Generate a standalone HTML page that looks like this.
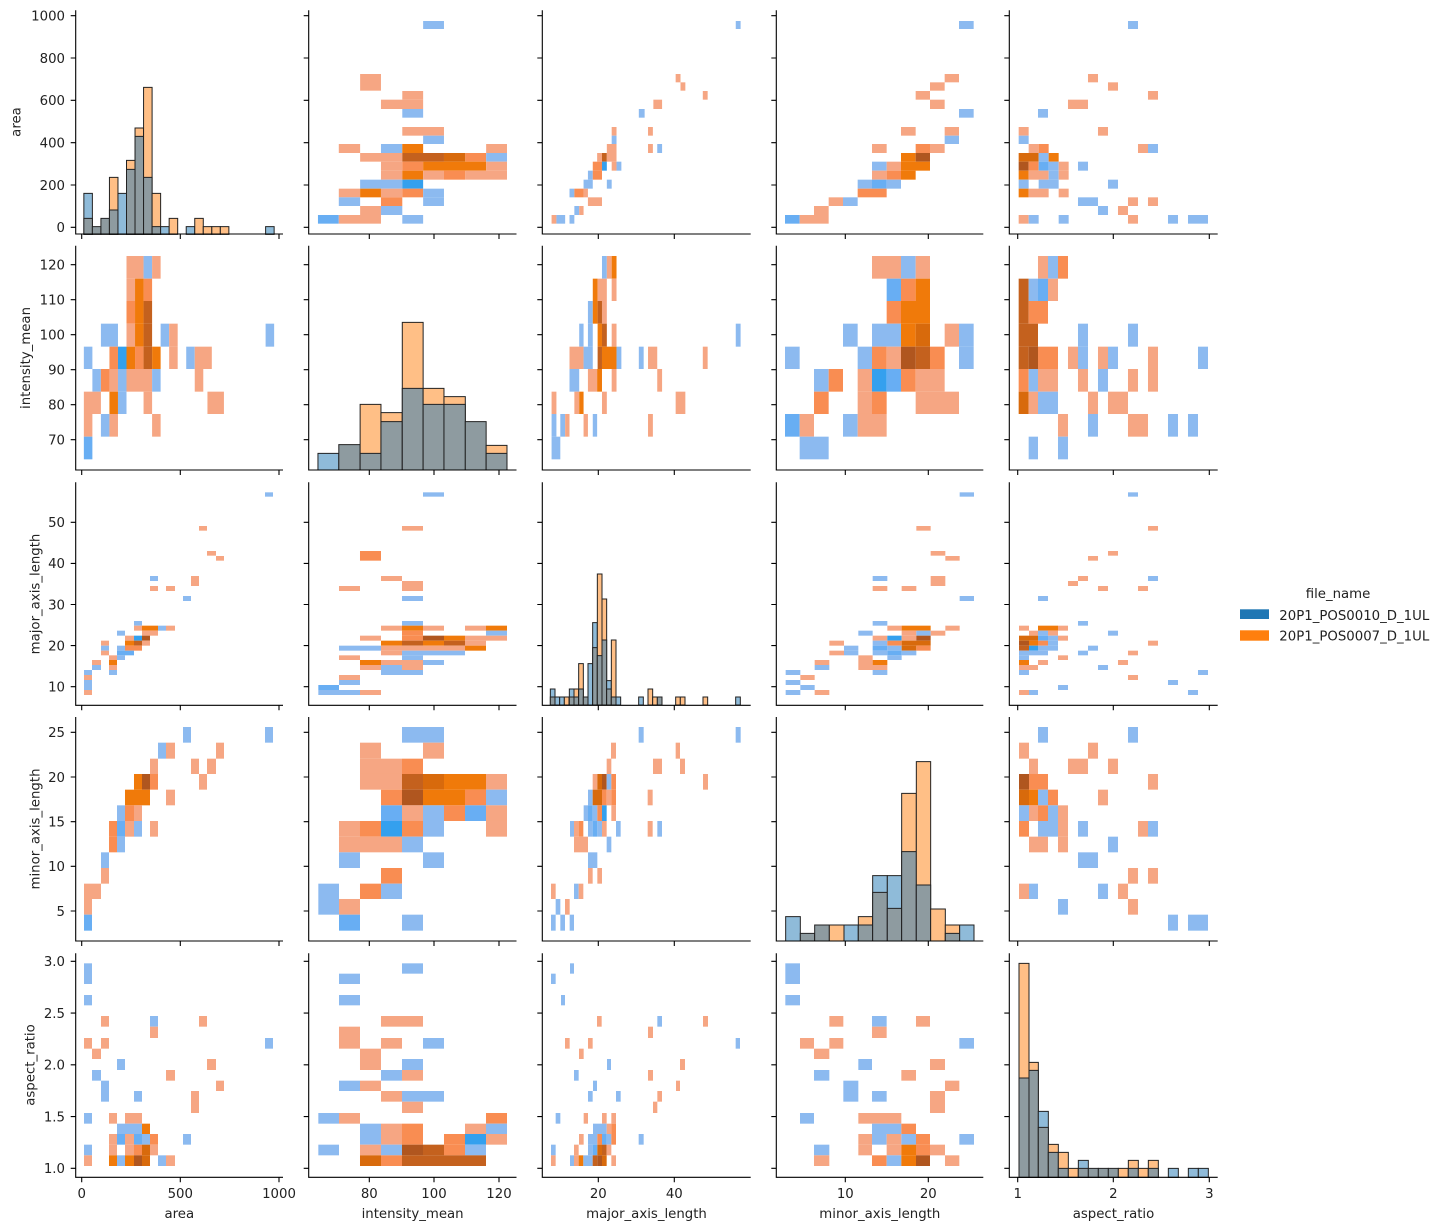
<!DOCTYPE html>
<html><head><meta charset="utf-8"><style>
html,body{margin:0;padding:0;background:#fff}
svg{display:block}
text{font-family:"DejaVu Sans","Liberation Sans",sans-serif;font-size:13.3px;fill:#222}
.S{fill:#f6a683}.M{fill:#f98d52}.O{fill:#f07a0a}.D{fill:#c4611e}.DD{fill:#b0561f}.DO{fill:#d86a0c}
.B{fill:#8cbaf0}.BM{fill:#68aef3}.BS{fill:#34a0ee}
.hb,.ho,.hg{stroke:#222;stroke-width:1;vector-effect:non-scaling-stroke}
.hb{fill:#8fbbd9}.ho{fill:#ffbf86}.hg{fill:#8e9ba0}
.ax{fill:none;stroke:#000;stroke-width:1.1}
</style></head><body>
<svg width="1448" height="1230" viewBox="0 0 1448 1230" xmlns="http://www.w3.org/2000/svg">
<defs>
<g id="yt0"><path class="ax" d="M-5 15.7h5M-5 58h5M-5 100.3h5M-5 142.7h5M-5 185h5M-5 227.3h5"/></g>
<g id="yt1"><path class="ax" d="M-5 264.7h5M-5 299.7h5M-5 334.7h5M-5 369.7h5M-5 404.7h5M-5 439.7h5"/></g>
<g id="yt2"><path class="ax" d="M-5 522.3h5M-5 563.4h5M-5 604.5h5M-5 645.6h5M-5 686.7h5"/></g>
<g id="yt3"><path class="ax" d="M-5 732.3h5M-5 777h5M-5 821.7h5M-5 866.3h5M-5 911h5"/></g>
<g id="yt4"><path class="ax" d="M-5 961.3h5M-5 1013.1h5M-5 1064.8h5M-5 1116.6h5M-5 1168.3h5"/></g>
<g id="xt0"><path class="ax" d="M81.7 0v5M180.3 0v5M279 0v5"/></g>
<g id="xt1"><path class="ax" d="M369.3 0v5M434 0v5M499 0v5"/></g>
<g id="xt2"><path class="ax" d="M598.3 0v5M674.3 0v5"/></g>
<g id="xt3"><path class="ax" d="M845.3 0v5M928.3 0v5"/></g>
<g id="xt4"><path class="ax" d="M1017.7 0v5M1113.3 0v5M1209.3 0v5"/></g>
</defs>

<!-- zoom3 group: panels (0,0),(0,1),(0,2),(1,0),(1,1),(1,2) -->
<g transform="scale(0.48469,0.33333)">
<!-- (0,0) hist -->
<rect class="hb" x="173" y="580" width="17.6" height="123"/><rect class="hg" x="173" y="655" width="17.6" height="48"/>
<rect class="hg" x="190.6" y="680" width="17.6" height="23"/>
<rect class="hg" x="208.2" y="655" width="17.6" height="48"/>
<rect class="ho" x="225.8" y="532" width="17.6" height="171"/><rect class="hg" x="225.8" y="630" width="17.6" height="73"/>
<rect class="hb" x="243.4" y="580" width="17.6" height="123"/>
<rect class="ho" x="261" y="481" width="17.6" height="222"/><rect class="hg" x="261" y="508" width="17.6" height="195"/>
<rect class="ho" x="278.6" y="384" width="17.6" height="319"/><rect class="hg" x="278.6" y="409" width="17.6" height="294"/>
<rect class="ho" x="296.2" y="262" width="17.6" height="441"/><rect class="hg" x="296.2" y="532" width="17.6" height="171"/>
<rect class="ho" x="313.8" y="580" width="17.6" height="123"/><rect class="hg" x="313.8" y="680" width="17.6" height="23"/>
<rect class="hb" x="331.4" y="680" width="17.6" height="23"/>
<rect class="ho" x="349" y="655" width="17.6" height="48"/>
<rect class="hb" x="384.2" y="680" width="17.6" height="23"/>
<rect class="ho" x="401.8" y="655" width="17.6" height="48"/>
<rect class="ho" x="419.4" y="680" width="17.6" height="23"/>
<rect class="ho" x="437" y="680" width="17.6" height="23"/>
<rect class="ho" x="454.6" y="680" width="17.6" height="23"/>
<rect class="hb" x="548" y="680" width="17.6" height="23"/>
<!-- (0,1) -->
<rect class="B" x="873" y="63" width="43" height="24"/>
<rect class="S" x="743" y="222" width="43" height="50"/>
<rect class="S" x="830" y="273" width="43" height="26"/>
<rect class="S" x="786" y="299" width="87" height="28"/>
<rect class="B" x="830" y="327" width="43" height="26"/>
<rect class="S" x="830" y="381" width="86" height="26"/>
<rect class="B" x="873" y="407" width="43" height="25"/>
<rect class="S" x="699" y="432" width="44" height="27"/><rect class="B" x="786" y="432" width="44" height="27"/><rect class="O" x="830" y="432" width="43" height="27"/><rect class="S" x="1003" y="432" width="43" height="27"/>
<rect class="S" x="743" y="459" width="87" height="26"/><rect class="D" x="830" y="459" width="86" height="26"/><rect class="DO" x="916" y="459" width="44" height="26"/><rect class="M" x="960" y="459" width="43" height="26"/><rect class="B" x="1003" y="459" width="43" height="26"/>
<rect class="S" x="786" y="485" width="44" height="27"/><rect class="M" x="830" y="485" width="43" height="27"/><rect class="O" x="873" y="485" width="130" height="27"/><rect class="S" x="1003" y="485" width="43" height="27"/>
<rect class="S" x="786" y="512" width="44" height="27"/><rect class="O" x="830" y="512" width="43" height="27"/><rect class="S" x="873" y="512" width="43" height="27"/><rect class="M" x="916" y="512" width="44" height="27"/><rect class="S" x="960" y="512" width="86" height="27"/>
<rect class="B" x="743" y="539" width="87" height="27"/><rect class="BS" x="830" y="539" width="43" height="27"/>
<rect class="S" x="699" y="566" width="44" height="26"/><rect class="O" x="743" y="566" width="43" height="26"/><rect class="S" x="786" y="566" width="44" height="26"/><rect class="M" x="830" y="566" width="43" height="26"/><rect class="B" x="873" y="566" width="43" height="26"/>
<rect class="B" x="699" y="592" width="44" height="26"/><rect class="M" x="786" y="592" width="44" height="26"/><rect class="B" x="873" y="592" width="43" height="26"/>
<rect class="S" x="743" y="618" width="43" height="27"/><rect class="B" x="786" y="618" width="44" height="27"/>
<rect class="BM" x="656" y="645" width="43" height="26"/><rect class="S" x="699" y="645" width="87" height="26"/><rect class="B" x="830" y="645" width="43" height="26"/>
<!-- (0,2) -->
<rect class="B" x="1518" y="63" width="10" height="24"/>
<rect class="S" x="1394" y="222" width="10" height="25"/>
<rect class="S" x="1404" y="247" width="10" height="25"/>
<rect class="S" x="1450" y="273" width="10" height="26"/>
<rect class="S" x="1348" y="299" width="18" height="28"/>
<rect class="B" x="1318" y="327" width="12" height="26"/>
<rect class="S" x="1262" y="381" width="10" height="26"/><rect class="S" x="1337" y="381" width="10" height="26"/>
<rect class="B" x="1262" y="407" width="10" height="25"/>
<rect class="S" x="1252" y="432" width="20" height="27"/><rect class="S" x="1337" y="432" width="10" height="27"/><rect class="B" x="1356" y="432" width="10" height="27"/>
<rect class="S" x="1232" y="459" width="10" height="26"/><rect class="D" x="1242" y="459" width="10" height="26"/><rect class="S" x="1252" y="459" width="20" height="26"/>
<rect class="M" x="1223" y="485" width="19" height="27"/><rect class="BS" x="1242" y="485" width="10" height="27"/><rect class="S" x="1262" y="485" width="10" height="27"/><rect class="B" x="1272" y="485" width="10" height="27"/>
<rect class="B" x="1213" y="512" width="10" height="27"/><rect class="M" x="1223" y="512" width="19" height="27"/>
<rect class="B" x="1204" y="539" width="19" height="27"/><rect class="B" x="1252" y="539" width="10" height="27"/>
<rect class="B" x="1175" y="566" width="10" height="26"/><rect class="M" x="1185" y="566" width="19" height="26"/><rect class="S" x="1204" y="566" width="9" height="26"/>
<rect class="S" x="1213" y="592" width="29" height="26"/>
<rect class="B" x="1185" y="618" width="10" height="27"/><rect class="S" x="1195" y="618" width="9" height="27"/>
<rect class="S" x="1138" y="645" width="10" height="26"/><rect class="B" x="1148" y="645" width="18" height="26"/><rect class="B" x="1175" y="645" width="10" height="26"/>
<!-- (1,0) -->
<rect class="S" x="261" y="768" width="35.2" height="68"/><rect class="B" x="296.2" y="768" width="17.6" height="68"/><rect class="S" x="313.8" y="768" width="17.6" height="68"/>
<rect class="S" x="261" y="836" width="17.6" height="67"/><rect class="O" x="278.6" y="836" width="17.6" height="67"/><rect class="M" x="296.2" y="836" width="17.6" height="67"/>
<rect class="M" x="261" y="903" width="17.6" height="68"/><rect class="O" x="278.6" y="903" width="17.6" height="68"/><rect class="D" x="296.2" y="903" width="17.6" height="68"/>
<rect class="B" x="208.2" y="971" width="35.2" height="69"/><rect class="S" x="261" y="971" width="17.6" height="69"/><rect class="O" x="278.6" y="971" width="17.6" height="69"/><rect class="D" x="296.2" y="971" width="17.6" height="69"/><rect class="B" x="331.4" y="971" width="17.6" height="69"/><rect class="S" x="349" y="971" width="17.6" height="69"/><rect class="B" x="548" y="971" width="17.6" height="69"/>
<rect class="B" x="173" y="1040" width="17.6" height="67"/><rect class="M" x="225.8" y="1040" width="17.6" height="67"/><rect class="BS" x="243.4" y="1040" width="17.6" height="67"/><rect class="O" x="261" y="1040" width="17.6" height="67"/><rect class="M" x="278.6" y="1040" width="17.6" height="67"/><rect class="D" x="296.2" y="1040" width="17.6" height="67"/><rect class="O" x="313.8" y="1040" width="17.6" height="67"/><rect class="S" x="349" y="1040" width="17.6" height="67"/><rect class="B" x="384.2" y="1040" width="17.6" height="67"/><rect class="S" x="401.8" y="1040" width="35.2" height="67"/>
<rect class="B" x="190.6" y="1107" width="17.6" height="68"/><rect class="M" x="208.2" y="1107" width="17.6" height="68"/><rect class="S" x="225.8" y="1107" width="17.6" height="68"/><rect class="B" x="243.4" y="1107" width="17.6" height="68"/><rect class="S" x="261" y="1107" width="52.8" height="68"/><rect class="B" x="313.8" y="1107" width="17.6" height="68"/><rect class="S" x="401.8" y="1107" width="17.6" height="68"/>
<rect class="S" x="173" y="1175" width="35.2" height="67"/><rect class="O" x="225.8" y="1175" width="17.6" height="67"/><rect class="B" x="243.4" y="1175" width="17.6" height="67"/><rect class="S" x="296.2" y="1175" width="17.6" height="67"/><rect class="S" x="428" y="1175" width="34" height="67"/>
<rect class="S" x="173" y="1242" width="17.6" height="68"/><rect class="B" x="208.2" y="1242" width="17.6" height="68"/><rect class="S" x="225.8" y="1242" width="17.6" height="68"/><rect class="S" x="313.8" y="1242" width="17.6" height="68"/>
<rect class="BM" x="173" y="1310" width="17.6" height="68"/>
<!-- (1,1) hist -->
<rect class="hb" x="656" y="1360" width="43" height="50"/>
<rect class="hg" x="699" y="1334" width="44" height="76"/>
<rect class="ho" x="743" y="1213" width="43" height="197"/><rect class="hg" x="743" y="1360" width="43" height="50"/>
<rect class="ho" x="786" y="1238" width="44" height="172"/><rect class="hg" x="786" y="1265" width="44" height="145"/>
<rect class="ho" x="830" y="967" width="43" height="443"/><rect class="hg" x="830" y="1165" width="43" height="245"/>
<rect class="ho" x="873" y="1165" width="43" height="245"/><rect class="hg" x="873" y="1213" width="43" height="197"/>
<rect class="ho" x="916" y="1190" width="44" height="220"/><rect class="hg" x="916" y="1213" width="44" height="197"/>
<rect class="hg" x="960" y="1265" width="43" height="145"/>
<rect class="ho" x="1003" y="1336" width="43" height="74"/><rect class="hg" x="1003" y="1360" width="43" height="50"/>
<!-- (1,2) -->
<rect class="B" x="1242" y="768" width="10" height="68"/><rect class="S" x="1252" y="768" width="10" height="68"/><rect class="O" x="1262" y="768" width="10" height="68"/>
<rect class="O" x="1223" y="836" width="10" height="67"/><rect class="S" x="1233" y="836" width="19" height="67"/><rect class="S" x="1262" y="836" width="10" height="67"/>
<rect class="B" x="1213" y="903" width="10" height="68"/><rect class="O" x="1223" y="903" width="10" height="68"/><rect class="D" x="1233" y="903" width="9" height="68"/><rect class="S" x="1242" y="903" width="10" height="68"/>
<rect class="B" x="1195" y="971" width="9" height="69"/><rect class="B" x="1213" y="971" width="10" height="69"/><rect class="O" x="1233" y="971" width="9" height="69"/><rect class="D" x="1242" y="971" width="10" height="69"/><rect class="S" x="1262" y="971" width="10" height="69"/><rect class="B" x="1518" y="971" width="10" height="69"/>
<rect class="S" x="1175" y="1040" width="29" height="67"/><rect class="B" x="1204" y="1040" width="19" height="67"/><rect class="D" x="1233" y="1040" width="9" height="67"/><rect class="O" x="1242" y="1040" width="30" height="67"/><rect class="B" x="1272" y="1040" width="10" height="67"/><rect class="B" x="1318" y="1040" width="10" height="67"/><rect class="S" x="1337" y="1040" width="19" height="67"/><rect class="S" x="1450" y="1040" width="10" height="67"/>
<rect class="B" x="1175" y="1107" width="20" height="68"/><rect class="S" x="1213" y="1107" width="19" height="68"/><rect class="O" x="1232" y="1107" width="10" height="68"/><rect class="S" x="1262" y="1107" width="10" height="68"/><rect class="S" x="1356" y="1107" width="10" height="68"/>
<rect class="S" x="1138" y="1175" width="10" height="67"/><rect class="S" x="1185" y="1175" width="10" height="67"/><rect class="O" x="1195" y="1175" width="9" height="67"/><rect class="S" x="1242" y="1175" width="10" height="67"/><rect class="S" x="1394" y="1175" width="20" height="67"/>
<rect class="B" x="1138" y="1242" width="10" height="68"/><rect class="B" x="1156" y="1242" width="10" height="68"/><rect class="S" x="1166" y="1242" width="9" height="68"/><rect class="S" x="1204" y="1242" width="9" height="68"/><rect class="B" x="1223" y="1242" width="9" height="68"/><rect class="S" x="1337" y="1242" width="10" height="68"/>
<rect class="B" x="1138" y="1310" width="18" height="68"/>
</g>

<!-- zoom4 group: (0,3),(0,4),(1,3),(1,4) -->
<g transform="translate(740,0) scale(0.33333)">
<rect class="B" x="657" y="63" width="44" height="24"/>
<rect class="S" x="614" y="222" width="43" height="25"/>
<rect class="S" x="570" y="247" width="44" height="25"/>
<rect class="S" x="527" y="273" width="43" height="26"/>
<rect class="S" x="570" y="299" width="44" height="28"/>
<rect class="B" x="657" y="327" width="44" height="26"/>
<rect class="S" x="483" y="381" width="44" height="26"/><rect class="S" x="614" y="381" width="43" height="26"/>
<rect class="B" x="614" y="407" width="43" height="25"/>
<rect class="S" x="396" y="432" width="44" height="27"/><rect class="M" x="527" y="432" width="43" height="27"/><rect class="S" x="570" y="432" width="44" height="27"/>
<rect class="O" x="483" y="459" width="44" height="26"/><rect class="DD" x="527" y="459" width="43" height="26"/>
<rect class="B" x="396" y="485" width="44" height="27"/><rect class="S" x="440" y="485" width="43" height="27"/><rect class="O" x="483" y="485" width="87" height="27"/>
<rect class="S" x="396" y="512" width="44" height="27"/><rect class="M" x="440" y="512" width="43" height="27"/><rect class="O" x="483" y="512" width="44" height="27"/>
<rect class="B" x="353" y="539" width="43" height="27"/><rect class="BM" x="396" y="539" width="44" height="27"/><rect class="B" x="440" y="539" width="43" height="27"/>
<rect class="M" x="353" y="566" width="87" height="26"/>
<rect class="S" x="266" y="592" width="43" height="26"/><rect class="B" x="309" y="592" width="44" height="26"/>
<rect class="S" x="222" y="618" width="44" height="27"/>
<rect class="BM" x="135" y="645" width="44" height="26"/><rect class="S" x="179" y="645" width="87" height="26"/>
<!-- (0,4) -->
<rect class="B" x="1164" y="63" width="30" height="24"/>
<rect class="S" x="1044" y="222" width="30" height="25"/>
<rect class="S" x="1104" y="247" width="30" height="25"/>
<rect class="S" x="1224" y="273" width="30" height="26"/>
<rect class="S" x="984" y="299" width="60" height="28"/>
<rect class="B" x="894" y="327" width="30" height="26"/>
<rect class="S" x="836" y="381" width="30" height="26"/><rect class="S" x="1074" y="381" width="30" height="26"/>
<rect class="B" x="836" y="407" width="30" height="25"/>
<rect class="S" x="866" y="432" width="30" height="27"/><rect class="M" x="896" y="432" width="30" height="27"/><rect class="S" x="1194" y="432" width="30" height="27"/><rect class="B" x="1224" y="432" width="30" height="27"/>
<rect class="DO" x="836" y="459" width="60" height="26"/><rect class="B" x="896" y="459" width="30" height="26"/><rect class="O" x="926" y="459" width="30" height="26"/>
<rect class="DD" x="836" y="485" width="30" height="27"/><rect class="M" x="866" y="485" width="30" height="27"/><rect class="BM" x="896" y="485" width="30" height="27"/><rect class="B" x="926" y="485" width="30" height="27"/><rect class="S" x="956" y="485" width="30" height="27"/><rect class="B" x="1014" y="485" width="30" height="27"/>
<rect class="O" x="836" y="512" width="30" height="27"/><rect class="S" x="866" y="512" width="60" height="27"/><rect class="B" x="926" y="512" width="30" height="27"/><rect class="S" x="956" y="512" width="30" height="27"/>
<rect class="B" x="836" y="539" width="30" height="27"/><rect class="B" x="896" y="539" width="60" height="27"/><rect class="B" x="1104" y="539" width="30" height="27"/>
<rect class="O" x="836" y="566" width="30" height="26"/><rect class="S" x="866" y="566" width="60" height="26"/><rect class="S" x="956" y="566" width="30" height="26"/>
<rect class="B" x="1014" y="592" width="60" height="26"/><rect class="S" x="1164" y="592" width="30" height="26"/><rect class="S" x="1224" y="592" width="30" height="26"/>
<rect class="B" x="1074" y="618" width="30" height="27"/><rect class="S" x="1134" y="618" width="30" height="27"/>
<rect class="S" x="836" y="645" width="30" height="26"/><rect class="B" x="866" y="645" width="30" height="26"/><rect class="B" x="956" y="645" width="30" height="26"/><rect class="S" x="1164" y="645" width="30" height="26"/><rect class="B" x="1284" y="645" width="30" height="26"/><rect class="B" x="1344" y="645" width="60" height="26"/>
<!-- (1,3) -->
<rect class="S" x="396" y="768" width="87" height="68"/><rect class="B" x="483" y="768" width="44" height="68"/><rect class="S" x="527" y="768" width="43" height="68"/>
<rect class="BM" x="440" y="836" width="43" height="67"/><rect class="M" x="483" y="836" width="44" height="67"/><rect class="O" x="527" y="836" width="43" height="67"/>
<rect class="M" x="440" y="903" width="43" height="68"/><rect class="O" x="483" y="903" width="87" height="68"/>
<rect class="B" x="309" y="971" width="44" height="69"/><rect class="B" x="396" y="971" width="87" height="69"/><rect class="O" x="483" y="971" width="44" height="69"/><rect class="DO" x="527" y="971" width="43" height="69"/><rect class="S" x="614" y="971" width="43" height="69"/><rect class="B" x="657" y="971" width="44" height="69"/>
<rect class="B" x="135" y="1040" width="44" height="67"/><rect class="B" x="353" y="1040" width="43" height="67"/><rect class="M" x="396" y="1040" width="44" height="67"/><rect class="S" x="440" y="1040" width="43" height="67"/><rect class="DD" x="483" y="1040" width="44" height="67"/><rect class="D" x="527" y="1040" width="43" height="67"/><rect class="M" x="570" y="1040" width="44" height="67"/><rect class="B" x="657" y="1040" width="44" height="67"/>
<rect class="B" x="222" y="1107" width="44" height="68"/><rect class="M" x="266" y="1107" width="43" height="68"/><rect class="S" x="353" y="1107" width="43" height="68"/><rect class="BS" x="396" y="1107" width="44" height="68"/><rect class="BM" x="440" y="1107" width="43" height="68"/><rect class="M" x="483" y="1107" width="44" height="68"/><rect class="S" x="527" y="1107" width="87" height="68"/>
<rect class="M" x="222" y="1175" width="44" height="67"/><rect class="S" x="353" y="1175" width="43" height="67"/><rect class="M" x="396" y="1175" width="44" height="67"/><rect class="S" x="527" y="1175" width="130" height="67"/>
<rect class="BM" x="135" y="1242" width="44" height="68"/><rect class="S" x="179" y="1242" width="43" height="68"/><rect class="B" x="309" y="1242" width="44" height="68"/><rect class="S" x="353" y="1242" width="87" height="68"/>
<rect class="B" x="179" y="1310" width="87" height="68"/>
<!-- (1,4) -->
<rect class="S" x="894" y="768" width="30" height="68"/><rect class="B" x="924" y="768" width="30" height="68"/><rect class="M" x="954" y="768" width="30" height="68"/>
<rect class="D" x="836" y="836" width="30" height="67"/><rect class="B" x="866" y="836" width="28" height="67"/><rect class="BM" x="894" y="836" width="30" height="67"/><rect class="S" x="924" y="836" width="30" height="67"/>
<rect class="D" x="836" y="903" width="30" height="68"/><rect class="M" x="866" y="903" width="58" height="68"/>
<rect class="D" x="836" y="971" width="58" height="69"/><rect class="B" x="1014" y="971" width="30" height="69"/><rect class="B" x="1164" y="971" width="30" height="69"/>
<rect class="D" x="836" y="1040" width="30" height="67"/><rect class="DD" x="866" y="1040" width="28" height="67"/><rect class="M" x="894" y="1040" width="60" height="67"/><rect class="S" x="984" y="1040" width="30" height="67"/><rect class="B" x="1014" y="1040" width="30" height="67"/><rect class="S" x="1074" y="1040" width="30" height="67"/><rect class="B" x="1104" y="1040" width="30" height="67"/><rect class="S" x="1224" y="1040" width="30" height="67"/><rect class="B" x="1374" y="1040" width="30" height="67"/>
<rect class="M" x="836" y="1107" width="30" height="68"/><rect class="B" x="866" y="1107" width="28" height="68"/><rect class="S" x="894" y="1107" width="60" height="68"/><rect class="S" x="1014" y="1107" width="30" height="68"/><rect class="B" x="1074" y="1107" width="30" height="68"/><rect class="S" x="1164" y="1107" width="30" height="68"/><rect class="S" x="1224" y="1107" width="30" height="68"/>
<rect class="DO" x="836" y="1175" width="30" height="67"/><rect class="S" x="866" y="1175" width="28" height="67"/><rect class="B" x="894" y="1175" width="60" height="67"/><rect class="S" x="1044" y="1175" width="30" height="67"/><rect class="S" x="1104" y="1175" width="60" height="67"/>
<rect class="S" x="954" y="1242" width="30" height="68"/><rect class="B" x="1044" y="1242" width="30" height="68"/><rect class="S" x="1164" y="1242" width="60" height="68"/><rect class="B" x="1284" y="1242" width="30" height="68"/><rect class="B" x="1344" y="1242" width="30" height="68"/>
<rect class="B" x="866" y="1310" width="28" height="68"/><rect class="B" x="954" y="1310" width="30" height="68"/>
</g>

<!-- zoom5 group: (2,0),(2,1),(3,0),(3,1) -->
<g transform="translate(0,470) scale(0.33333)">
<rect class="B" x="795" y="67" width="24" height="13"/>
<rect class="S" x="597" y="168" width="24" height="14"/>
<rect class="S" x="621" y="243" width="27" height="14"/><rect class="S" x="648" y="258" width="24" height="14"/>
<rect class="B" x="450" y="318" width="24" height="15"/><rect class="S" x="573" y="318" width="24" height="30"/><rect class="S" x="450" y="348" width="24" height="15"/><rect class="S" x="498" y="348" width="27" height="15"/>
<rect class="B" x="549" y="378" width="24" height="15"/>
<rect class="B" x="402" y="453" width="24" height="14"/>
<rect class="S" x="402" y="467" width="24" height="15"/><rect class="O" x="426" y="467" width="48" height="15"/><rect class="B" x="474" y="467" width="24" height="15"/><rect class="S" x="498" y="467" width="27" height="15"/>
<rect class="B" x="351" y="482" width="24" height="15"/><rect class="S" x="426" y="482" width="48" height="15"/>
<rect class="S" x="375" y="497" width="27" height="15"/><rect class="BS" x="402" y="497" width="24" height="15"/><rect class="DD" x="426" y="497" width="24" height="15"/>
<rect class="S" x="303" y="512" width="24" height="15"/><rect class="O" x="375" y="512" width="27" height="15"/><rect class="D" x="402" y="512" width="24" height="15"/><rect class="S" x="426" y="512" width="24" height="15"/>
<rect class="B" x="303" y="527" width="24" height="15"/><rect class="B" x="351" y="527" width="24" height="15"/><rect class="M" x="375" y="527" width="51" height="15"/>
<rect class="S" x="303" y="542" width="24" height="14"/><rect class="BM" x="351" y="542" width="51" height="14"/>
<rect class="S" x="327" y="556" width="24" height="14"/><rect class="B" x="351" y="556" width="24" height="14"/>
<rect class="S" x="276" y="570" width="27" height="15"/><rect class="O" x="327" y="570" width="24" height="15"/>
<rect class="B" x="276" y="585" width="27" height="15"/><rect class="S" x="327" y="585" width="24" height="15"/>
<rect class="B" x="252" y="600" width="24" height="15"/><rect class="B" x="327" y="600" width="24" height="15"/>
<rect class="S" x="252" y="615" width="24" height="15"/>
<rect class="B" x="252" y="630" width="24" height="30"/>
<rect class="S" x="252" y="660" width="24" height="15"/>
<!-- (2,1) -->
<rect class="B" x="1269" y="67" width="63" height="13"/>
<rect class="S" x="1206" y="168" width="63" height="14"/>
<rect class="M" x="1080" y="243" width="63" height="29"/>
<rect class="S" x="1143" y="318" width="63" height="15"/><rect class="S" x="1206" y="333" width="63" height="30"/><rect class="S" x="1017" y="348" width="63" height="15"/>
<rect class="B" x="1206" y="378" width="63" height="15"/>
<rect class="B" x="1206" y="453" width="63" height="14"/>
<rect class="S" x="1143" y="467" width="63" height="15"/><rect class="O" x="1206" y="467" width="63" height="15"/><rect class="S" x="1269" y="467" width="63" height="15"/><rect class="S" x="1395" y="467" width="63" height="15"/><rect class="O" x="1458" y="467" width="63" height="15"/>
<rect class="M" x="1206" y="482" width="63" height="15"/><rect class="B" x="1458" y="482" width="63" height="15"/>
<rect class="S" x="1080" y="497" width="63" height="15"/><rect class="M" x="1206" y="497" width="63" height="15"/><rect class="DD" x="1269" y="497" width="63" height="15"/><rect class="O" x="1332" y="497" width="63" height="15"/><rect class="S" x="1395" y="497" width="126" height="15"/>
<rect class="O" x="1143" y="512" width="63" height="15"/><rect class="D" x="1206" y="512" width="63" height="15"/><rect class="O" x="1269" y="512" width="63" height="15"/><rect class="D" x="1332" y="512" width="63" height="15"/><rect class="S" x="1395" y="512" width="63" height="15"/>
<rect class="B" x="1017" y="527" width="126" height="15"/><rect class="S" x="1143" y="527" width="252" height="15"/><rect class="O" x="1395" y="527" width="63" height="15"/>
<rect class="S" x="1143" y="542" width="63" height="14"/><rect class="B" x="1206" y="542" width="189" height="14"/>
<rect class="S" x="1017" y="556" width="63" height="14"/><rect class="B" x="1206" y="556" width="63" height="14"/>
<rect class="O" x="1080" y="570" width="63" height="15"/><rect class="S" x="1143" y="570" width="126" height="15"/><rect class="B" x="1269" y="570" width="63" height="15"/>
<rect class="S" x="1080" y="585" width="63" height="15"/><rect class="B" x="1143" y="585" width="63" height="15"/><rect class="S" x="1206" y="585" width="63" height="15"/>
<rect class="B" x="1143" y="600" width="126" height="15"/>
<rect class="S" x="1017" y="615" width="63" height="15"/>
<rect class="B" x="1017" y="630" width="63" height="15"/>
<rect class="BM" x="955" y="645" width="62" height="15"/>
<rect class="B" x="955" y="660" width="125" height="15"/><rect class="S" x="1080" y="660" width="63" height="15"/>
<!-- (3,0) -->
<rect class="B" x="549" y="771" width="24" height="47"/><rect class="B" x="795" y="771" width="24" height="47"/>
<rect class="B" x="474" y="818" width="24" height="48"/><rect class="S" x="498" y="818" width="27" height="48"/><rect class="S" x="648" y="818" width="24" height="48"/>
<rect class="S" x="450" y="866" width="24" height="46"/><rect class="S" x="573" y="866" width="24" height="46"/><rect class="S" x="621" y="866" width="27" height="46"/>
<rect class="O" x="402" y="912" width="24" height="47"/><rect class="DD" x="426" y="912" width="24" height="47"/><rect class="M" x="450" y="912" width="24" height="47"/><rect class="S" x="597" y="912" width="24" height="47"/>
<rect class="O" x="375" y="959" width="75" height="47"/><rect class="S" x="498" y="959" width="27" height="47"/>
<rect class="B" x="351" y="1006" width="24" height="47"/><rect class="M" x="375" y="1006" width="27" height="47"/><rect class="S" x="402" y="1006" width="24" height="47"/>
<rect class="M" x="327" y="1053" width="24" height="47"/><rect class="BM" x="351" y="1053" width="24" height="47"/><rect class="S" x="375" y="1053" width="27" height="47"/><rect class="B" x="402" y="1053" width="24" height="47"/><rect class="S" x="450" y="1053" width="24" height="47"/>
<rect class="M" x="327" y="1100" width="24" height="47"/><rect class="B" x="351" y="1100" width="24" height="47"/>
<rect class="B" x="303" y="1147" width="24" height="47"/>
<rect class="S" x="303" y="1194" width="24" height="47"/>
<rect class="S" x="252" y="1241" width="51" height="46"/>
<rect class="S" x="252" y="1287" width="24" height="47"/>
<rect class="BM" x="252" y="1334" width="24" height="48"/>
<!-- (3,1) -->
<rect class="B" x="1206" y="771" width="126" height="47"/>
<rect class="S" x="1080" y="818" width="63" height="48"/><rect class="S" x="1269" y="818" width="63" height="48"/>
<rect class="S" x="1080" y="866" width="126" height="46"/><rect class="M" x="1206" y="866" width="63" height="46"/>
<rect class="S" x="1080" y="912" width="126" height="47"/><rect class="D" x="1206" y="912" width="63" height="47"/><rect class="DO" x="1269" y="912" width="63" height="47"/><rect class="O" x="1332" y="912" width="126" height="47"/><rect class="S" x="1458" y="912" width="63" height="47"/>
<rect class="M" x="1143" y="959" width="63" height="47"/><rect class="DD" x="1206" y="959" width="63" height="47"/><rect class="O" x="1269" y="959" width="126" height="47"/><rect class="M" x="1395" y="959" width="63" height="47"/><rect class="B" x="1458" y="959" width="63" height="47"/>
<rect class="BM" x="1143" y="1006" width="63" height="47"/><rect class="S" x="1206" y="1006" width="63" height="47"/><rect class="B" x="1269" y="1006" width="63" height="47"/><rect class="M" x="1332" y="1006" width="63" height="47"/><rect class="BM" x="1395" y="1006" width="63" height="47"/><rect class="S" x="1458" y="1006" width="63" height="47"/>
<rect class="S" x="1017" y="1053" width="63" height="47"/><rect class="M" x="1080" y="1053" width="63" height="47"/><rect class="BS" x="1143" y="1053" width="63" height="47"/><rect class="M" x="1206" y="1053" width="63" height="47"/><rect class="B" x="1269" y="1053" width="63" height="47"/><rect class="S" x="1458" y="1053" width="63" height="47"/>
<rect class="S" x="1017" y="1100" width="189" height="47"/><rect class="B" x="1206" y="1100" width="63" height="47"/>
<rect class="B" x="1017" y="1147" width="63" height="47"/><rect class="B" x="1269" y="1147" width="63" height="47"/>
<rect class="M" x="1143" y="1194" width="63" height="47"/>
<rect class="B" x="955" y="1241" width="62" height="93"/><rect class="M" x="1080" y="1241" width="63" height="46"/><rect class="B" x="1143" y="1241" width="63" height="46"/>
<rect class="S" x="1017" y="1287" width="63" height="47"/>
<rect class="BM" x="1017" y="1334" width="63" height="48"/><rect class="B" x="1206" y="1334" width="63" height="48"/>
</g>

<!-- zoom6 group: (2,2),(2,3),(3,2),(3,3) -->
<g transform="translate(500,470) scale(0.33333)">
<rect class="hb" x="151" y="657" width="14" height="48"/><rect class="hg" x="151" y="681" width="14" height="24"/>
<rect class="hb" x="165" y="681" width="14" height="24"/>
<rect class="hb" x="179" y="681" width="14" height="24"/>
<rect class="ho" x="193" y="681" width="14" height="24"/>
<rect class="hb" x="208" y="657" width="14" height="48"/><rect class="hg" x="208" y="681" width="14" height="24"/>
<rect class="ho" x="222" y="657" width="14" height="48"/><rect class="hg" x="222" y="681" width="14" height="24"/>
<rect class="ho" x="236" y="581" width="14" height="124"/><rect class="hg" x="236" y="657" width="14" height="48"/>
<rect class="hg" x="250" y="681" width="14" height="24"/>
<rect class="hb" x="264" y="581" width="14" height="124"/>
<rect class="hb" x="278" y="458" width="14" height="247"/><rect class="hg" x="278" y="533" width="14" height="172"/>
<rect class="ho" x="292" y="312" width="14" height="393"/><rect class="hg" x="292" y="557" width="14" height="148"/>
<rect class="ho" x="306" y="387" width="14" height="318"/><rect class="hg" x="306" y="510" width="14" height="195"/>
<rect class="hb" x="320" y="632" width="14" height="73"/><rect class="hg" x="320" y="657" width="14" height="48"/>
<rect class="ho" x="334" y="510" width="14" height="195"/><rect class="hg" x="334" y="681" width="14" height="24"/>
<rect class="hb" x="348" y="681" width="14" height="24"/>
<rect class="hb" x="416" y="681" width="14" height="24"/>
<rect class="ho" x="444" y="657" width="14" height="48"/>
<rect class="ho" x="458" y="681" width="14" height="24"/>
<rect class="hg" x="472" y="681" width="14" height="24"/>
<rect class="ho" x="527" y="681" width="14" height="24"/>
<rect class="ho" x="541" y="681" width="14" height="24"/>
<rect class="ho" x="609" y="681" width="14" height="24"/>
<rect class="hb" x="707" y="681" width="14" height="24"/>
<!-- (2,3) -->
<rect class="B" x="1379" y="67" width="43" height="13"/>
<rect class="S" x="1249" y="168" width="43" height="14"/>
<rect class="S" x="1292" y="243" width="44" height="14"/><rect class="S" x="1336" y="258" width="43" height="14"/>
<rect class="B" x="1118" y="318" width="44" height="15"/><rect class="S" x="1292" y="318" width="44" height="30"/>
<rect class="S" x="1118" y="348" width="44" height="15"/><rect class="S" x="1205" y="348" width="44" height="15"/>
<rect class="B" x="1379" y="378" width="43" height="15"/>
<rect class="B" x="1118" y="453" width="44" height="14"/>
<rect class="S" x="1162" y="467" width="43" height="15"/><rect class="O" x="1205" y="467" width="87" height="15"/><rect class="S" x="1336" y="467" width="43" height="15"/>
<rect class="B" x="1075" y="482" width="43" height="15"/><rect class="S" x="1205" y="482" width="44" height="15"/><rect class="B" x="1249" y="482" width="43" height="15"/><rect class="S" x="1292" y="482" width="44" height="15"/>
<rect class="S" x="1118" y="497" width="44" height="15"/><rect class="BS" x="1162" y="497" width="43" height="15"/><rect class="S" x="1205" y="497" width="44" height="15"/><rect class="DD" x="1249" y="497" width="43" height="15"/>
<rect class="S" x="988" y="512" width="44" height="15"/><rect class="B" x="1118" y="512" width="44" height="15"/><rect class="M" x="1162" y="512" width="43" height="15"/><rect class="DO" x="1205" y="512" width="87" height="15"/>
<rect class="B" x="1032" y="527" width="43" height="15"/><rect class="BM" x="1118" y="527" width="44" height="15"/><rect class="B" x="1162" y="527" width="43" height="15"/><rect class="DO" x="1205" y="527" width="44" height="15"/><rect class="M" x="1249" y="527" width="43" height="15"/>
<rect class="S" x="988" y="542" width="44" height="14"/><rect class="B" x="1032" y="542" width="43" height="14"/><rect class="B" x="1118" y="542" width="44" height="14"/><rect class="BM" x="1162" y="542" width="43" height="14"/><rect class="B" x="1205" y="542" width="44" height="14"/>
<rect class="S" x="1075" y="556" width="43" height="14"/><rect class="B" x="1162" y="556" width="43" height="14"/>
<rect class="S" x="944" y="570" width="44" height="15"/><rect class="S" x="1075" y="570" width="43" height="15"/><rect class="O" x="1118" y="570" width="44" height="15"/>
<rect class="B" x="944" y="585" width="44" height="15"/><rect class="S" x="1075" y="585" width="87" height="15"/>
<rect class="B" x="857" y="600" width="44" height="15"/><rect class="B" x="1118" y="600" width="44" height="15"/>
<rect class="S" x="901" y="615" width="43" height="15"/>
<rect class="B" x="857" y="630" width="44" height="15"/>
<rect class="B" x="901" y="645" width="43" height="15"/>
<rect class="B" x="857" y="660" width="44" height="15"/><rect class="S" x="944" y="660" width="44" height="15"/>
<!-- (3,2) -->
<rect class="B" x="416" y="771" width="15" height="47"/><rect class="B" x="707" y="771" width="15" height="47"/>
<rect class="S" x="333" y="818" width="15" height="48"/><rect class="S" x="527" y="818" width="13" height="48"/>
<rect class="S" x="320" y="866" width="14" height="46"/><rect class="S" x="459" y="866" width="27" height="46"/><rect class="S" x="540" y="866" width="15" height="46"/>
<rect class="S" x="278" y="912" width="14" height="47"/><rect class="DO" x="292" y="912" width="14" height="47"/><rect class="DD" x="306" y="912" width="14" height="47"/><rect class="B" x="320" y="912" width="14" height="47"/><rect class="M" x="334" y="912" width="14" height="47"/><rect class="S" x="609" y="912" width="15" height="47"/>
<rect class="B" x="264" y="959" width="14" height="47"/><rect class="DO" x="278" y="959" width="28" height="47"/><rect class="M" x="306" y="959" width="14" height="47"/><rect class="S" x="320" y="959" width="14" height="47"/><rect class="M" x="334" y="959" width="14" height="47"/><rect class="S" x="443" y="959" width="15" height="47"/>
<rect class="B" x="251" y="1006" width="13" height="47"/><rect class="BM" x="264" y="1006" width="14" height="47"/><rect class="B" x="278" y="1006" width="14" height="47"/><rect class="M" x="292" y="1006" width="14" height="47"/><rect class="BS" x="306" y="1006" width="14" height="47"/><rect class="S" x="334" y="1006" width="14" height="47"/>
<rect class="B" x="210" y="1053" width="12" height="47"/><rect class="S" x="222" y="1053" width="14" height="47"/><rect class="M" x="236" y="1053" width="14" height="47"/><rect class="B" x="264" y="1053" width="14" height="47"/><rect class="BM" x="278" y="1053" width="14" height="47"/><rect class="B" x="292" y="1053" width="14" height="47"/><rect class="S" x="306" y="1053" width="14" height="47"/><rect class="B" x="348" y="1053" width="14" height="47"/><rect class="S" x="443" y="1053" width="15" height="47"/><rect class="B" x="472" y="1053" width="14" height="47"/>
<rect class="S" x="222" y="1100" width="42" height="47"/><rect class="B" x="320" y="1100" width="14" height="47"/>
<rect class="B" x="264" y="1147" width="28" height="47"/>
<rect class="S" x="264" y="1194" width="14" height="47"/><rect class="S" x="292" y="1194" width="14" height="47"/>
<rect class="S" x="153" y="1241" width="14" height="46"/><rect class="B" x="222" y="1241" width="14" height="46"/><rect class="S" x="236" y="1241" width="14" height="46"/>
<rect class="B" x="167" y="1287" width="14" height="47"/><rect class="S" x="195" y="1287" width="14" height="47"/>
<rect class="B" x="153" y="1334" width="14" height="48"/><rect class="B" x="181" y="1334" width="14" height="48"/><rect class="B" x="209" y="1334" width="13" height="48"/>
<!-- (3,3) hist -->
<rect class="hb" x="857" y="1340" width="44" height="73"/>
<rect class="hg" x="901" y="1390" width="43" height="23"/>
<rect class="hg" x="944" y="1365" width="44" height="48"/>
<rect class="ho" x="988" y="1365" width="44" height="48"/>
<rect class="hb" x="1032" y="1365" width="43" height="48"/>
<rect class="ho" x="1075" y="1340" width="43" height="73"/><rect class="hg" x="1075" y="1365" width="43" height="48"/>
<rect class="hb" x="1118" y="1217" width="44" height="196"/><rect class="hg" x="1118" y="1267" width="44" height="146"/>
<rect class="hb" x="1162" y="1217" width="43" height="196"/><rect class="hg" x="1162" y="1315" width="43" height="98"/>
<rect class="ho" x="1205" y="970" width="44" height="443"/><rect class="hg" x="1205" y="1145" width="44" height="268"/>
<rect class="ho" x="1249" y="875" width="43" height="538"/><rect class="hg" x="1249" y="1245" width="43" height="168"/>
<rect class="ho" x="1292" y="1317" width="44" height="96"/>
<rect class="ho" x="1336" y="1365" width="43" height="48"/><rect class="hg" x="1336" y="1390" width="43" height="23"/>
<rect class="hb" x="1379" y="1365" width="43" height="48"/>
</g>

<!-- zoom7 group: (2,4),(3,4) -->
<g transform="translate(960,470) scale(0.33333)">
<rect class="B" x="504" y="67" width="30" height="13"/>
<rect class="S" x="564" y="168" width="30" height="14"/>
<rect class="S" x="444" y="243" width="30" height="14"/><rect class="S" x="384" y="258" width="30" height="14"/>
<rect class="S" x="354" y="318" width="30" height="15"/><rect class="B" x="564" y="318" width="30" height="15"/><rect class="S" x="324" y="333" width="30" height="15"/>
<rect class="S" x="414" y="348" width="30" height="15"/><rect class="S" x="534" y="348" width="30" height="15"/>
<rect class="B" x="234" y="378" width="30" height="15"/>
<rect class="B" x="354" y="453" width="30" height="14"/>
<rect class="S" x="177" y="467" width="30" height="15"/><rect class="O" x="234" y="467" width="60" height="15"/><rect class="S" x="294" y="467" width="30" height="15"/>
<rect class="S" x="207" y="482" width="27" height="15"/><rect class="B" x="234" y="482" width="30" height="15"/><rect class="S" x="264" y="482" width="30" height="15"/><rect class="B" x="444" y="482" width="30" height="15"/>
<rect class="DO" x="177" y="497" width="57" height="15"/><rect class="BM" x="234" y="497" width="30" height="15"/><rect class="B" x="264" y="497" width="30" height="15"/><rect class="S" x="294" y="497" width="30" height="15"/>
<rect class="DD" x="177" y="512" width="30" height="15"/><rect class="O" x="207" y="512" width="27" height="15"/><rect class="M" x="234" y="512" width="30" height="15"/><rect class="B" x="264" y="512" width="30" height="15"/><rect class="S" x="564" y="512" width="30" height="15"/>
<rect class="D" x="177" y="527" width="30" height="15"/><rect class="BS" x="207" y="527" width="27" height="15"/><rect class="B" x="234" y="527" width="60" height="15"/><rect class="B" x="384" y="527" width="30" height="15"/>
<rect class="B" x="177" y="542" width="87" height="14"/><rect class="B" x="354" y="542" width="30" height="14"/><rect class="S" x="504" y="542" width="30" height="14"/>
<rect class="B" x="177" y="556" width="30" height="14"/><rect class="S" x="294" y="556" width="30" height="14"/>
<rect class="O" x="177" y="570" width="30" height="15"/><rect class="S" x="234" y="570" width="30" height="15"/><rect class="S" x="474" y="570" width="30" height="15"/>
<rect class="S" x="177" y="585" width="57" height="15"/><rect class="B" x="414" y="585" width="30" height="15"/>
<rect class="B" x="177" y="600" width="30" height="15"/><rect class="B" x="714" y="600" width="30" height="15"/>
<rect class="S" x="504" y="615" width="30" height="15"/>
<rect class="B" x="624" y="630" width="30" height="15"/>
<rect class="B" x="294" y="645" width="30" height="15"/>
<rect class="S" x="177" y="660" width="30" height="15"/><rect class="B" x="207" y="660" width="27" height="15"/><rect class="B" x="684" y="660" width="30" height="15"/>
<!-- (3,4) -->
<rect class="B" x="234" y="771" width="30" height="47"/><rect class="B" x="504" y="771" width="30" height="47"/>
<rect class="S" x="177" y="818" width="30" height="48"/><rect class="S" x="384" y="818" width="30" height="48"/>
<rect class="S" x="207" y="866" width="27" height="46"/><rect class="S" x="324" y="866" width="60" height="46"/><rect class="S" x="444" y="866" width="30" height="46"/>
<rect class="DD" x="177" y="912" width="30" height="47"/><rect class="M" x="207" y="912" width="57" height="47"/><rect class="S" x="564" y="912" width="30" height="47"/>
<rect class="DO" x="177" y="959" width="30" height="47"/><rect class="O" x="207" y="959" width="27" height="47"/><rect class="B" x="234" y="959" width="30" height="47"/><rect class="M" x="264" y="959" width="30" height="47"/><rect class="S" x="414" y="959" width="30" height="47"/>
<rect class="B" x="177" y="1006" width="30" height="47"/><rect class="S" x="207" y="1006" width="27" height="47"/><rect class="M" x="234" y="1006" width="30" height="47"/><rect class="B" x="264" y="1006" width="30" height="47"/><rect class="S" x="294" y="1006" width="30" height="47"/>
<rect class="M" x="177" y="1053" width="30" height="47"/><rect class="B" x="234" y="1053" width="60" height="47"/><rect class="S" x="294" y="1053" width="30" height="47"/><rect class="B" x="354" y="1053" width="30" height="47"/><rect class="S" x="534" y="1053" width="30" height="47"/><rect class="B" x="564" y="1053" width="30" height="47"/>
<rect class="S" x="207" y="1100" width="57" height="47"/><rect class="S" x="294" y="1100" width="30" height="47"/><rect class="B" x="444" y="1100" width="30" height="47"/>
<rect class="B" x="354" y="1147" width="60" height="47"/>
<rect class="S" x="504" y="1194" width="30" height="47"/><rect class="S" x="564" y="1194" width="30" height="47"/>
<rect class="S" x="177" y="1241" width="30" height="46"/><rect class="B" x="207" y="1241" width="27" height="46"/><rect class="B" x="414" y="1241" width="30" height="46"/><rect class="S" x="474" y="1241" width="30" height="46"/>
<rect class="B" x="294" y="1287" width="30" height="47"/><rect class="S" x="504" y="1287" width="30" height="47"/>
<rect class="B" x="624" y="1334" width="30" height="48"/><rect class="B" x="684" y="1334" width="60" height="48"/>
</g>

<!-- zoom8 group: (4,0),(4,1) -->
<g transform="translate(0,940) scale(0.33333)">
<rect class="B" x="252" y="70" width="24" height="62"/>
<rect class="B" x="252" y="165" width="24" height="31"/>
<rect class="S" x="303" y="228" width="24" height="32"/><rect class="B" x="450" y="228" width="24" height="32"/><rect class="S" x="597" y="228" width="24" height="32"/>
<rect class="S" x="450" y="260" width="24" height="34"/>
<rect class="S" x="252" y="294" width="24" height="32"/><rect class="S" x="303" y="294" width="24" height="32"/><rect class="B" x="795" y="294" width="24" height="32"/>
<rect class="S" x="276" y="326" width="27" height="31"/>
<rect class="B" x="351" y="357" width="24" height="33"/><rect class="S" x="621" y="357" width="27" height="33"/>
<rect class="B" x="276" y="390" width="27" height="32"/><rect class="S" x="498" y="390" width="27" height="32"/>
<rect class="B" x="303" y="422" width="24" height="63"/><rect class="S" x="648" y="422" width="24" height="31"/>
<rect class="B" x="402" y="453" width="24" height="32"/><rect class="S" x="573" y="453" width="24" height="66"/>
<rect class="B" x="252" y="519" width="24" height="32"/><rect class="S" x="327" y="519" width="24" height="32"/><rect class="S" x="375" y="519" width="51" height="32"/>
<rect class="B" x="351" y="551" width="75" height="31"/><rect class="O" x="426" y="551" width="24" height="31"/>
<rect class="S" x="327" y="582" width="24" height="32"/><rect class="BM" x="351" y="582" width="24" height="32"/><rect class="S" x="375" y="582" width="27" height="32"/><rect class="BM" x="402" y="582" width="24" height="32"/><rect class="B" x="426" y="582" width="24" height="32"/><rect class="M" x="450" y="582" width="24" height="32"/><rect class="B" x="549" y="582" width="24" height="32"/>
<rect class="B" x="252" y="614" width="24" height="32"/><rect class="S" x="327" y="614" width="24" height="32"/><rect class="S" x="375" y="614" width="27" height="32"/><rect class="M" x="402" y="614" width="24" height="32"/><rect class="DO" x="426" y="614" width="24" height="32"/><rect class="S" x="450" y="614" width="24" height="32"/>
<rect class="S" x="252" y="646" width="24" height="32"/><rect class="O" x="327" y="646" width="24" height="32"/><rect class="B" x="351" y="646" width="24" height="32"/><rect class="O" x="375" y="646" width="27" height="32"/><rect class="DD" x="402" y="646" width="24" height="32"/><rect class="DO" x="426" y="646" width="24" height="32"/><rect class="B" x="474" y="646" width="24" height="32"/><rect class="S" x="498" y="646" width="27" height="32"/>
<!-- (4,1) -->
<rect class="B" x="1206" y="70" width="63" height="31"/>
<rect class="B" x="1017" y="101" width="63" height="31"/>
<rect class="B" x="1017" y="165" width="63" height="31"/>
<rect class="S" x="1143" y="228" width="126" height="32"/>
<rect class="S" x="1017" y="260" width="63" height="66"/><rect class="S" x="1143" y="294" width="63" height="32"/><rect class="B" x="1269" y="294" width="63" height="32"/>
<rect class="S" x="1080" y="326" width="63" height="64"/><rect class="B" x="1206" y="357" width="63" height="33"/>
<rect class="B" x="1143" y="390" width="63" height="32"/><rect class="S" x="1206" y="390" width="63" height="32"/>
<rect class="B" x="1017" y="422" width="63" height="31"/><rect class="S" x="1080" y="422" width="63" height="31"/>
<rect class="S" x="1143" y="453" width="63" height="32"/><rect class="B" x="1206" y="453" width="126" height="32"/>
<rect class="S" x="1206" y="485" width="63" height="34"/>
<rect class="B" x="955" y="519" width="62" height="32"/><rect class="S" x="1017" y="519" width="63" height="32"/><rect class="M" x="1458" y="519" width="63" height="32"/>
<rect class="B" x="1080" y="551" width="63" height="31"/><rect class="S" x="1143" y="551" width="63" height="31"/><rect class="M" x="1206" y="551" width="63" height="31"/><rect class="S" x="1395" y="551" width="63" height="31"/><rect class="B" x="1458" y="551" width="63" height="31"/>
<rect class="B" x="1080" y="582" width="63" height="32"/><rect class="S" x="1143" y="582" width="63" height="32"/><rect class="M" x="1206" y="582" width="63" height="32"/><rect class="M" x="1332" y="582" width="63" height="32"/><rect class="BS" x="1395" y="582" width="63" height="32"/><rect class="S" x="1458" y="582" width="63" height="32"/>
<rect class="B" x="955" y="614" width="62" height="32"/><rect class="S" x="1080" y="614" width="63" height="32"/><rect class="B" x="1143" y="614" width="63" height="32"/><rect class="DD" x="1206" y="614" width="63" height="32"/><rect class="D" x="1269" y="614" width="63" height="32"/><rect class="M" x="1332" y="614" width="63" height="32"/><rect class="B" x="1395" y="614" width="63" height="32"/>
<rect class="DO" x="1080" y="646" width="63" height="32"/><rect class="M" x="1143" y="646" width="63" height="32"/><rect class="D" x="1206" y="646" width="252" height="32"/>
</g>

<!-- zoom9 group: (4,2),(4,3) -->
<g transform="translate(500,940) scale(0.33333)">
<rect class="B" x="210" y="70" width="12" height="31"/>
<rect class="B" x="153" y="101" width="14" height="31"/>
<rect class="B" x="183" y="165" width="12" height="31"/>
<rect class="S" x="291" y="228" width="14" height="32"/><rect class="B" x="472" y="228" width="14" height="32"/><rect class="S" x="609" y="228" width="15" height="32"/>
<rect class="S" x="444" y="260" width="15" height="34"/>
<rect class="S" x="195" y="294" width="14" height="32"/><rect class="S" x="264" y="294" width="14" height="32"/><rect class="B" x="707" y="294" width="13" height="32"/>
<rect class="S" x="237" y="326" width="14" height="31"/>
<rect class="B" x="321" y="357" width="12" height="33"/><rect class="S" x="540" y="357" width="15" height="33"/>
<rect class="B" x="222" y="390" width="14" height="32"/><rect class="S" x="444" y="390" width="15" height="32"/>
<rect class="B" x="279" y="422" width="12" height="31"/><rect class="S" x="528" y="422" width="12" height="31"/>
<rect class="B" x="264" y="453" width="14" height="32"/><rect class="B" x="348" y="453" width="14" height="32"/><rect class="S" x="472" y="453" width="14" height="32"/>
<rect class="S" x="459" y="485" width="13" height="34"/>
<rect class="B" x="167" y="519" width="14" height="32"/><rect class="S" x="251" y="519" width="13" height="32"/><rect class="S" x="306" y="519" width="14" height="32"/><rect class="S" x="334" y="519" width="14" height="32"/>
<rect class="B" x="279" y="551" width="41" height="31"/><rect class="S" x="320" y="551" width="14" height="31"/><rect class="M" x="334" y="551" width="14" height="31"/>
<rect class="S" x="237" y="582" width="14" height="32"/><rect class="B" x="264" y="582" width="28" height="32"/><rect class="M" x="292" y="582" width="14" height="32"/><rect class="BM" x="306" y="582" width="14" height="32"/><rect class="B" x="320" y="582" width="14" height="32"/><rect class="M" x="334" y="582" width="14" height="32"/><rect class="B" x="416" y="582" width="15" height="32"/>
<rect class="B" x="153" y="614" width="14" height="32"/><rect class="S" x="222" y="614" width="14" height="32"/><rect class="B" x="264" y="614" width="14" height="32"/><rect class="BM" x="278" y="614" width="14" height="32"/><rect class="DO" x="292" y="614" width="14" height="32"/><rect class="D" x="306" y="614" width="14" height="32"/><rect class="S" x="320" y="614" width="14" height="32"/>
<rect class="S" x="153" y="646" width="14" height="32"/><rect class="B" x="210" y="646" width="12" height="32"/><rect class="S" x="222" y="646" width="14" height="32"/><rect class="O" x="236" y="646" width="14" height="32"/><rect class="B" x="250" y="646" width="28" height="32"/><rect class="D" x="278" y="646" width="14" height="32"/><rect class="DD" x="292" y="646" width="14" height="32"/><rect class="DO" x="306" y="646" width="14" height="32"/><rect class="S" x="334" y="646" width="14" height="32"/>
<!-- (4,3) -->
<rect class="B" x="856" y="70" width="44" height="62"/>
<rect class="B" x="856" y="165" width="44" height="31"/>
<rect class="S" x="988" y="228" width="42" height="32"/><rect class="B" x="1116" y="228" width="44" height="32"/><rect class="S" x="1248" y="228" width="42" height="32"/>
<rect class="S" x="1116" y="260" width="44" height="34"/>
<rect class="S" x="900" y="294" width="42" height="32"/><rect class="S" x="988" y="294" width="42" height="32"/><rect class="B" x="1378" y="294" width="44" height="32"/>
<rect class="S" x="942" y="326" width="46" height="31"/>
<rect class="B" x="1075" y="357" width="41" height="33"/><rect class="S" x="1290" y="357" width="45" height="33"/>
<rect class="B" x="942" y="390" width="46" height="32"/><rect class="S" x="1204" y="390" width="44" height="32"/>
<rect class="B" x="1030" y="422" width="45" height="63"/><rect class="S" x="1335" y="422" width="43" height="31"/>
<rect class="B" x="1116" y="453" width="44" height="32"/><rect class="S" x="1290" y="453" width="45" height="66"/>
<rect class="B" x="900" y="519" width="42" height="32"/><rect class="S" x="1075" y="519" width="129" height="32"/>
<rect class="B" x="1116" y="551" width="88" height="31"/><rect class="M" x="1204" y="551" width="44" height="31"/>
<rect class="S" x="1075" y="582" width="41" height="32"/><rect class="B" x="1116" y="582" width="44" height="32"/><rect class="S" x="1160" y="582" width="44" height="32"/><rect class="B" x="1204" y="582" width="44" height="32"/><rect class="M" x="1248" y="582" width="42" height="32"/><rect class="B" x="1378" y="582" width="44" height="32"/>
<rect class="B" x="942" y="614" width="46" height="32"/><rect class="S" x="1075" y="614" width="41" height="32"/><rect class="S" x="1160" y="614" width="44" height="32"/><rect class="O" x="1204" y="614" width="44" height="32"/><rect class="M" x="1248" y="614" width="42" height="32"/><rect class="S" x="1290" y="614" width="45" height="32"/>
<rect class="S" x="942" y="646" width="46" height="32"/><rect class="M" x="1116" y="646" width="44" height="32"/><rect class="B" x="1160" y="646" width="44" height="32"/><rect class="O" x="1204" y="646" width="44" height="32"/><rect class="DD" x="1248" y="646" width="42" height="32"/><rect class="S" x="1335" y="646" width="43" height="32"/>
</g>

<!-- zoom10 group: (4,4) hist -->
<g transform="translate(960,940) scale(0.33333)">
<rect class="ho" x="177" y="70" width="30" height="642"/><rect class="hg" x="177" y="414" width="30" height="298"/>
<rect class="ho" x="207" y="367" width="28" height="345"/><rect class="hg" x="207" y="391" width="28" height="321"/>
<rect class="hb" x="235" y="514" width="30" height="198"/><rect class="hg" x="235" y="562" width="30" height="150"/>
<rect class="ho" x="265" y="613" width="30" height="99"/><rect class="hg" x="265" y="637" width="30" height="75"/>
<rect class="ho" x="295" y="637" width="30" height="75"/><rect class="hg" x="295" y="685" width="30" height="27"/>
<rect class="ho" x="325" y="685" width="30" height="27"/>
<rect class="hb" x="355" y="661" width="30" height="51"/><rect class="hg" x="355" y="685" width="30" height="27"/>
<rect class="hg" x="385" y="685" width="30" height="27"/>
<rect class="hg" x="415" y="685" width="30" height="27"/>
<rect class="hg" x="445" y="685" width="30" height="27"/>
<rect class="ho" x="475" y="685" width="30" height="27"/>
<rect class="ho" x="505" y="661" width="30" height="51"/><rect class="hg" x="505" y="685" width="30" height="27"/>
<rect class="ho" x="535" y="685" width="30" height="27"/>
<rect class="ho" x="565" y="661" width="30" height="51"/><rect class="hg" x="565" y="685" width="30" height="27"/>
<rect class="hb" x="625" y="685" width="30" height="27"/>
<rect class="hb" x="685" y="685" width="30" height="27"/>
<rect class="hb" x="715" y="685" width="30" height="27"/>
</g>

<!-- spines -->
<path class="ax" d="
M75.7 10.3V234H283 M308.7 10.3V234H516.5 M542.3 10.3V234H750.7 M776.3 10.3V234H983.3 M1009.3 10.3V234H1217.7
M75.7 245.7V470H283 M308.7 245.7V470H516.5 M542.3 245.7V470H750.7 M776.3 245.7V470H983.3 M1009.3 245.7V470H1217.7
M75.7 482.3V705.3H283 M308.7 482.3V705.3H516.5 M542.3 482.3V705.3H750.7 M776.3 482.3V705.3H983.3 M1009.3 482.3V705.3H1217.7
M75.7 717V941H283 M308.7 717V941H516.5 M542.3 717V941H750.7 M776.3 717V941H983.3 M1009.3 717V941H1217.7
M75.7 953.3V1177.3H283 M308.7 953.3V1177.3H516.5 M542.3 953.3V1177.3H750.7 M776.3 953.3V1177.3H983.3 M1009.3 953.3V1177.3H1217.7"/>

<!-- y ticks -->
<use href="#yt0" x="75.7"/><use href="#yt0" x="308.7"/><use href="#yt0" x="542.3"/><use href="#yt0" x="776.3"/><use href="#yt0" x="1009.3"/>
<use href="#yt1" x="75.7"/><use href="#yt1" x="308.7"/><use href="#yt1" x="542.3"/><use href="#yt1" x="776.3"/><use href="#yt1" x="1009.3"/>
<use href="#yt2" x="75.7"/><use href="#yt2" x="308.7"/><use href="#yt2" x="542.3"/><use href="#yt2" x="776.3"/><use href="#yt2" x="1009.3"/>
<use href="#yt3" x="75.7"/><use href="#yt3" x="308.7"/><use href="#yt3" x="542.3"/><use href="#yt3" x="776.3"/><use href="#yt3" x="1009.3"/>
<use href="#yt4" x="75.7"/><use href="#yt4" x="308.7"/><use href="#yt4" x="542.3"/><use href="#yt4" x="776.3"/><use href="#yt4" x="1009.3"/>
<!-- x ticks -->
<use href="#xt0" y="234"/><use href="#xt1" y="234"/><use href="#xt2" y="234"/><use href="#xt3" y="234"/><use href="#xt4" y="234"/>
<use href="#xt0" y="470"/><use href="#xt1" y="470"/><use href="#xt2" y="470"/><use href="#xt3" y="470"/><use href="#xt4" y="470"/>
<use href="#xt0" y="705.3"/><use href="#xt1" y="705.3"/><use href="#xt2" y="705.3"/><use href="#xt3" y="705.3"/><use href="#xt4" y="705.3"/>
<use href="#xt0" y="941"/><use href="#xt1" y="941"/><use href="#xt2" y="941"/><use href="#xt3" y="941"/><use href="#xt4" y="941"/>
<use href="#xt0" y="1177.3"/><use href="#xt1" y="1177.3"/><use href="#xt2" y="1177.3"/><use href="#xt3" y="1177.3"/><use href="#xt4" y="1177.3"/>

<!-- y tick labels -->
<g text-anchor="end">
<text x="65" y="20.5">1000</text><text x="65" y="62.8">800</text><text x="65" y="105.1">600</text><text x="65" y="147.5">400</text><text x="65" y="189.8">200</text><text x="65" y="232.1">0</text>
<text x="65" y="269.5">120</text><text x="65" y="304.5">110</text><text x="65" y="339.5">100</text><text x="65" y="374.5">90</text><text x="65" y="409.5">80</text><text x="65" y="444.5">70</text>
<text x="65" y="527.1">50</text><text x="65" y="568.2">40</text><text x="65" y="609.3">30</text><text x="65" y="650.4">20</text><text x="65" y="691.5">10</text>
<text x="65" y="737.1">25</text><text x="65" y="781.8">20</text><text x="65" y="826.5">15</text><text x="65" y="871.1">10</text><text x="65" y="915.8">5</text>
<text x="65" y="966.1">3.0</text><text x="65" y="1017.9">2.5</text><text x="65" y="1069.6">2.0</text><text x="65" y="1121.4">1.5</text><text x="65" y="1173.1">1.0</text>
</g>
<!-- x tick labels -->
<g text-anchor="middle">
<text x="81.7" y="1198">0</text><text x="180.3" y="1198">500</text><text x="279" y="1198">1000</text>
<text x="369.3" y="1198">80</text><text x="434" y="1198">100</text><text x="499" y="1198">120</text>
<text x="598.3" y="1198">20</text><text x="674.3" y="1198">40</text>
<text x="845.3" y="1198">10</text><text x="928.3" y="1198">20</text>
<text x="1017.7" y="1198">1</text><text x="1113.3" y="1198">2</text><text x="1209.3" y="1198">3</text>
<text x="179.3" y="1218">area</text>
<text x="412.6" y="1218">intensity_mean</text>
<text x="646.5" y="1218">major_axis_length</text>
<text x="879.8" y="1218">minor_axis_length</text>
<text x="1113.5" y="1218">aspect_ratio</text>
<text transform="translate(16,122) rotate(-90)" dy="0.35em">area</text>
<text transform="translate(25.5,358) rotate(-90)" dy="0.35em">intensity_mean</text>
<text transform="translate(35,594) rotate(-90)" dy="0.35em">major_axis_length</text>
<text transform="translate(35,829) rotate(-90)" dy="0.35em">minor_axis_length</text>
<text transform="translate(30,1065) rotate(-90)" dy="0.35em">aspect_ratio</text>
<text x="1338" y="598">file_name</text>
</g>
<!-- legend -->
<rect x="1240" y="609.3" width="29" height="9.7" fill="#1f77b4"/>
<rect x="1240" y="630.3" width="29" height="10.4" fill="#ff7f0e"/>
<text x="1279.3" y="619.8">20P1_POS0010_D_1UL</text>
<text x="1279.3" y="640.5">20P1_POS0007_D_1UL</text>
</svg>
</body></html>
